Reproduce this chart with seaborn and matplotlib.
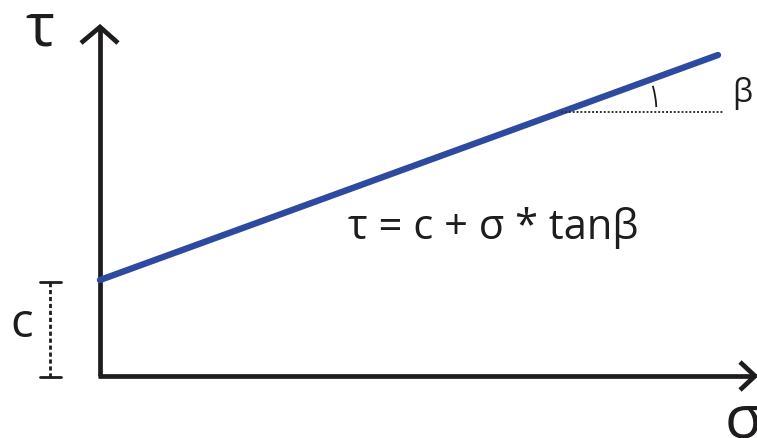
import numpy as np
import pandas as pd
import matplotlib
matplotlib.use('Agg')
from matplotlib import pyplot as plt
from matplotlib.patches import Arc
import seaborn as sns

# Data (units match pixels, origin at the axes corner)
sigma = [0, 618]
tau = [96, 321]
cValue = 96
betaDeg = np.degrees(np.arctan((tau[1] - tau[0]) / (sigma[1] - sigma[0])))
equation = "τ = c + σ * tanβ"
blue = "#2d4a9e"
ink = "#1e1c1d"


def fig():
    my_dpi = 100
    f = plt.figure(figsize=(757 / my_dpi, 438 / my_dpi), dpi=my_dpi)
    ax = f.add_axes([0, 0, 1, 1])
    ax.set_xlim(-100, 657)
    ax.set_ylim(-62, 376)
    ax.set_aspect("equal")
    ax.axis("off")
    return f, ax


def drawAxes(ax):
    k = dict(color=ink, lw=3.4, solid_capstyle="butt", solid_joinstyle="miter")
    ax.plot([0, 0], [0, 349], **k)
    ax.plot([-2, 655], [0, 0], **k)
    ax.plot([-19, 0, 18], [333, 349, 333], **k)
    ax.plot([640, 655, 640], [14, 0, -14], **k)


if __name__ == "__main__":
    sns.set_style("white")
    plt.rcParams["font.family"] = ["Open Sans", "DejaVu Sans"]

    f, ax = fig()
    drawAxes(ax)

    df = pd.DataFrame({"sigma": sigma, "tau": tau})
    sns.lineplot(data=df, x="sigma", y="tau", ax=ax, color=blue, lw=4.6)

    # angle helper
    xv = sigma[0] + (264 - tau[0]) / np.tan(np.radians(betaDeg))
    ax.plot([xv, 623], [264, 264], color="#333333", lw=1.4, linestyle=(0, (1, 1)))
    ax.add_patch(Arc((xv, 264), 190, 190, theta1=3, theta2=16, color=ink, lw=1.3))

    # c bracket
    ax.plot([-50, -50], [-1, cValue - 2], color=ink, lw=2, linestyle=(0, (1.5, 1)))
    ax.plot([-60, -39], [cValue - 2, cValue - 2], color=ink, lw=2)
    ax.plot([-60, -39], [-1, -1], color=ink, lw=2)

    ax.text(-78, 52, "c", fontsize=34, ha="center", va="center", color=ink)
    ax.text(-60, 346, "τ", fontsize=44, ha="center", va="center", color=ink)
    ax.text(643, -46, "σ", fontsize=44, ha="center", va="center", color=ink)
    ax.text(642, 283, "β", fontsize=23, ha="center", va="center", color=ink)
    ax.text(393, 148, equation, fontsize=30, ha="center", va="center", color=ink)

    plt.savefig("out.png", dpi=100)
    plt.close()
